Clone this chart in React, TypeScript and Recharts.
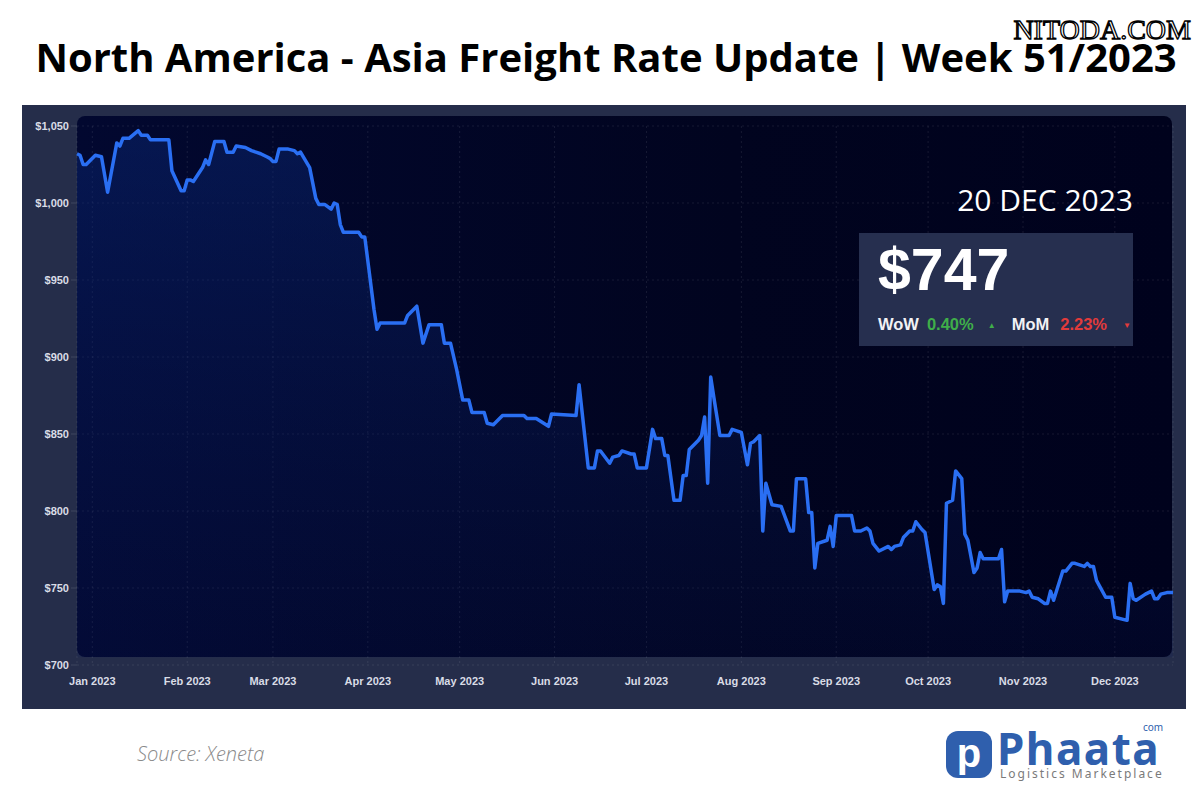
import React from "react";
import { Area, CartesianGrid, ComposedChart, XAxis, YAxis } from "recharts";

// days counted from 1 Jan 2023 (negative = late Dec 2022)
const DAYS = [
  -5, -4, -3, -2, 1, 3, 5, 8, 9, 10, 12, 15, 16, 18, 19, 25, 26, 29, 30, 31, 32, 33, 36, 37, 38, 40, 43, 44, 46, 47,
  50, 52, 55, 57, 58, 59, 60, 61, 64, 66, 67, 68, 71, 73, 74, 76, 78, 79, 80, 81, 82, 87, 88, 89, 92, 93, 94, 102,
  103, 106, 108, 110, 114, 115, 117, 119, 121, 123, 124, 128, 129, 131, 134, 141, 142, 145, 149, 150, 158, 159, 162,
  164, 165, 166, 169, 170, 172, 173, 176, 177, 178, 181, 183, 184, 186, 187, 188, 190, 192, 193, 194, 195, 198, 199,
  200, 201, 202, 203, 205, 208, 209, 212, 214, 215, 216, 218, 219, 220, 222, 225, 228, 229, 230, 233, 234, 235, 236,
  237, 240, 241, 242, 243, 248, 249, 251, 253, 254, 255, 257, 260, 261, 262, 264, 265, 267, 268, 269, 271, 272, 275,
  276, 277, 278, 279, 281, 282, 284, 285, 286, 288, 289, 290, 291, 296, 297, 298, 299, 303, 305, 306, 307, 309, 311,
  312, 313, 314, 317, 318, 320, 321, 324, 325, 326, 327, 328, 331, 333, 334, 338, 339, 340, 341, 344, 346, 347, 348,
  349, 351, 353,
];
const RATES = [
  1032, 1031, 1025, 1025, 1031, 1030, 1007, 1039, 1037, 1042, 1042, 1047, 1044, 1044, 1041, 1041, 1021, 1008, 1008,
  1015, 1015, 1014, 1023, 1028, 1025, 1040, 1040, 1033, 1033, 1037, 1036, 1034, 1032, 1030, 1029, 1027, 1027, 1035,
  1035, 1034, 1032, 1033, 1023, 1003, 999, 999, 996, 1000, 999, 986, 981, 981, 978, 978, 931, 918, 922, 922, 927, 933,
  909, 921, 921, 909, 909, 892, 872, 872, 864, 864, 857, 856, 862, 862, 860, 860, 855, 863, 862, 882, 828, 828, 839,
  839, 831, 835, 836, 839, 837, 837, 828, 828, 853, 847, 847, 836, 836, 807, 807, 823, 823, 840, 846, 849, 861, 818,
  887, 874, 849, 849, 853, 851, 830, 844, 845, 849, 787, 818, 804, 803, 787, 787, 821, 821, 799, 799, 763, 779, 781,
  790, 777, 797, 797, 787, 787, 789, 787, 779, 774, 777, 775, 777, 778, 783, 787, 787, 793, 788, 786, 749, 752, 751,
  740, 805, 807, 826, 821, 785, 781, 760, 763, 773, 769, 769, 775, 741, 748, 748, 747, 748, 744, 743, 740, 740, 748,
  742, 761, 761, 766, 766, 764, 766, 764, 764, 755, 744, 744, 731, 729, 753, 743, 742, 746, 748, 743, 743, 746, 747,
  747,
];

const MONTH_TICKS = [0, 31, 59, 90, 120, 151, 181, 212, 243, 273, 304, 334];
const MONTH_LABELS = [
  "Jan 2023", "Feb 2023", "Mar 2023", "Apr 2023", "May 2023", "Jun 2023",
  "Jul 2023", "Aug 2023", "Sep 2023", "Oct 2023", "Nov 2023", "Dec 2023",
];
const RATE_TICKS = [700, 750, 800, 850, 900, 950, 1000, 1050];

const LINE = "#2a6ff3";
const PANEL = "#252d4a";
const TICK = { fontSize: 11, fill: "#d9dce6", fontWeight: 700, fontFamily: "Liberation Sans, Arial, sans-serif" };

const rows = DAYS.map((d, i) => ({ day: d, rate: RATES[i] }));

function fmtRate(v: number) {
  return "$" + v.toLocaleString("en-US");
}

export default function App() {
  return (
    <div style={{ position: "absolute", left: 0, top: 0, width: 1200, height: 800, background: "#fff", overflow: "hidden" }}>
      <div
        style={{
          position: "absolute",
          left: 0,
          top: 36,
          width: 1212,
          textAlign: "center",
          fontFamily: "'Open Sans', sans-serif",
          fontWeight: 700,
          fontSize: 40,
          lineHeight: "42px",
          color: "#000",
          whiteSpace: "nowrap",
        }}
      >
        North America - Asia Freight Rate Update | Week 51/2023
      </div>
      <svg style={{ position: "absolute", left: 0, top: 0 }} width={1200} height={50}>
        <text
          x={1191}
          y={39}
          textAnchor="end"
          fontFamily="'Liberation Serif', serif"
          fontSize={28}
          fill="#fff"
          stroke="#000"
          strokeWidth={1.3}
        >
          NITODA.COM
        </text>
      </svg>

      <div style={{ position: "absolute", left: 22, top: 105, width: 1164, height: 604, background: PANEL }} />
      <div
        style={{
          position: "absolute",
          left: 77,
          top: 116,
          width: 1095,
          height: 541,
          borderRadius: 8,
          background: "linear-gradient(90deg, #020830 0%, #01041f 60%, #00021d 100%)",
        }}
      />

      <div style={{ position: "absolute", left: 0, top: 0 }}>
        <ComposedChart width={1200} height={800} data={rows} margin={{ top: 126, right: 27, bottom: 105, left: 22 }}>
          <defs>
            <linearGradient id="areaFill" x1="0" y1="0" x2="0" y2="1">
              <stop offset="0%" stopColor="#0b2c80" stopOpacity={0.7} />
              <stop offset="100%" stopColor="#0a1a5a" stopOpacity={0.25} />
            </linearGradient>
          </defs>
          <CartesianGrid stroke="rgba(255,255,255,0.09)" strokeDasharray="2 3" />
          <XAxis
            dataKey="day"
            type="number"
            domain={[-5, 353]}
            ticks={MONTH_TICKS}
            tickFormatter={(v: number) => MONTH_LABELS[MONTH_TICKS.indexOf(v)]}
            tick={TICK}
            axisLine={false}
            tickLine={false}
            tickMargin={6}
            height={30}
            interval={0}
          />
          <YAxis
            type="number"
            domain={[700, 1050]}
            ticks={RATE_TICKS}
            tickFormatter={fmtRate}
            tick={TICK}
            axisLine={false}
            tickLine={{ stroke: "rgba(255,255,255,0.12)" }}
            tickSize={6}
            tickMargin={2}
            width={55}
            interval={0}
          />
          <Area
            type="linear"
            dataKey="rate"
            stroke={LINE}
            strokeWidth={3.5}
            strokeLinejoin="round"
            fill="url(#areaFill)"
            baseValue={705}
            isAnimationActive={false}
            dot={false}
            activeDot={false}
          />
        </ComposedChart>
      </div>

      <div
        style={{
          position: "absolute",
          right: 1200 - 1133,
          top: 182,
          fontFamily: "'Open Sans', sans-serif",
          fontSize: 30,
          color: "#fff",
          lineHeight: "36px",
          whiteSpace: "nowrap",
        }}
      >
        20 DEC 2023
      </div>
      <div style={{ position: "absolute", left: 859, top: 233, width: 274, height: 113, background: "#262f4f" }}>
        <div
          style={{
            position: "absolute",
            left: 19,
            top: 4,
            fontFamily: "'Liberation Sans', Arial, sans-serif",
            fontWeight: 700,
            fontSize: 59,
            color: "#fff",
            lineHeight: "66px",
          }}
        >
          $747
        </div>
        <div
          style={{
            position: "absolute",
            left: 19,
            top: 81,
            fontFamily: "'Liberation Sans', Arial, sans-serif",
            fontWeight: 700,
            fontSize: 16.5,
            lineHeight: "20px",
            whiteSpace: "nowrap",
          }}
        >
          <span style={{ color: "#f2f2f5" }}>WoW</span>
          <span style={{ color: "#3fae49", marginLeft: 8 }}>0.40%</span>
          <span style={{ color: "#3fae49", marginLeft: 14, fontSize: 8, verticalAlign: 2 }}>▲</span>
          <span style={{ color: "#f2f2f5", marginLeft: 16 }}>MoM</span>
          <span style={{ color: "#e23b3b", marginLeft: 11 }}>2.23%</span>
          <span style={{ color: "#e23b3b", marginLeft: 16, fontSize: 8, verticalAlign: 2 }}>▼</span>
        </div>
      </div>

      <div
        style={{
          position: "absolute",
          left: 137,
          top: 740,
          fontFamily: "'Open Sans', sans-serif",
          fontStyle: "italic",
          fontWeight: 300,
          fontSize: 20,
          color: "#8a8a8a",
          lineHeight: "28px",
        }}
      >
        Source: Xeneta
      </div>

      <div
        style={{
          position: "absolute",
          left: 946,
          top: 731,
          width: 46,
          height: 47,
          borderRadius: 12,
          background: "#2f5fad",
          color: "#fff",
          fontFamily: "'Liberation Sans', Arial, sans-serif",
          fontWeight: 700,
          fontSize: 40,
          lineHeight: "44px",
          textAlign: "center",
        }}
      >
        p
      </div>
      <div
        style={{
          position: "absolute",
          left: 997,
          top: 731,
          fontFamily: "'Noto Sans', sans-serif",
          fontWeight: 700,
          fontSize: 44,
          lineHeight: "34px",
          color: "#2f5fad",
          letterSpacing: 1.5,
        }}
      >
        Phaata
      </div>
      <div
        style={{
          position: "absolute",
          left: 1143,
          top: 722,
          fontFamily: "'Noto Sans', sans-serif",
          fontSize: 10,
          color: "#2f5fad",
          lineHeight: "10px",
        }}
      >
        com
      </div>
      <div
        style={{
          position: "absolute",
          left: 1000,
          top: 767,
          fontFamily: "'Noto Sans', sans-serif",
          fontSize: 12,
          color: "#7a7a7a",
          lineHeight: "13px",
          letterSpacing: 2,
          whiteSpace: "nowrap",
        }}
      >
        Logistics Marketplace
      </div>
    </div>
  );
}
